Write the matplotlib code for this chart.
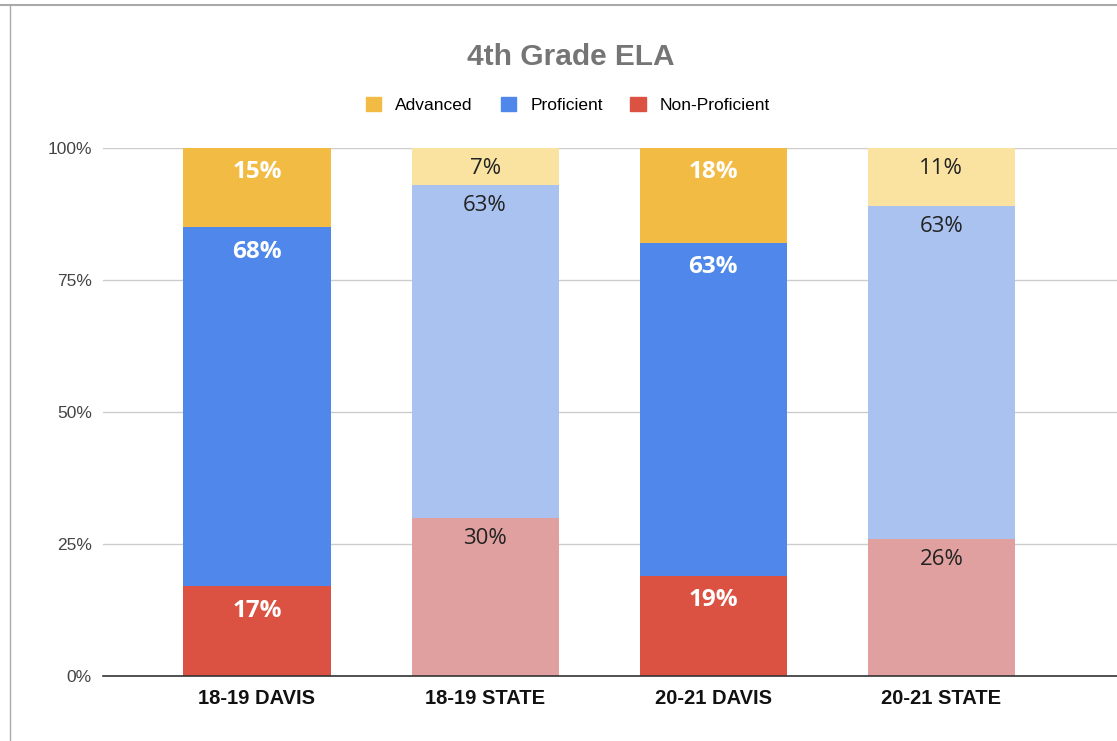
import numpy as np
import matplotlib.pyplot as plt
from matplotlib.lines import Line2D
from matplotlib.patches import Patch

categories = ['18-19 DAVIS', '18-19 STATE', '20-21 DAVIS', '20-21 STATE']
non_proficient = [17, 30, 19, 26]
proficient = [68, 63, 63, 63]
advanced = [15, 7, 18, 11]
is_davis = [True, False, True, False]

dark = {'adv': '#F2BB43', 'prof': '#4F87EA', 'non': '#DB5142'}
light = {'adv': '#FAE3A1', 'prof': '#AAC2F0', 'non': '#E0A09F'}

plt.rcParams['font.family'] = ['Liberation Sans', 'DejaVu Sans']

fig = plt.figure(figsize=(11.17, 7.41), dpi=100)
ax = fig.add_axes([103/1117, 1-676/741, 1-103/1117, (676-148)/741])

x = np.arange(len(categories))
w = 0.645

for i in x:
    pal = dark if is_davis[i] else light
    segs = [(non_proficient[i], pal['non']), (proficient[i], pal['prof']), (advanced[i], pal['adv'])]
    bottom = 0
    for v, c in segs:
        ax.bar(i, v, w, bottom=bottom, color=c, zorder=2)
        top = bottom + v
        if is_davis[i]:
            ax.annotate('%d%%' % v, (i, top), xytext=(0, -17.5), textcoords='offset points',
                        ha='center', va='center', color='white', fontsize=17.5, fontweight='bold',
                        family=['Open Sans', 'DejaVu Sans'])
        else:
            ax.annotate('%d%%' % v, (i, top), xytext=(0, -15), textcoords='offset points',
                        ha='center', va='center', color='#222222', fontsize=16,
                        family=['Open Sans', 'DejaVu Sans'])
        bottom = top

ax.set_xlim(-0.675, 3.77)
ax.set_ylim(0, 100)
ax.set_yticks([0, 25, 50, 75, 100])
ax.set_yticklabels(['0%', '25%', '50%', '75%', '100%'], fontsize=12.5, color='#444444')
ax.set_xticks(x)
ax.set_xticklabels(categories, fontsize=14.5, fontweight='bold', color='#111111')
ax.tick_params(axis='both', length=0)
ax.tick_params(axis='y', pad=8)
ax.tick_params(axis='x', pad=9)
ax.grid(axis='y', color='#cccccc', linewidth=1, zorder=0)
for s in ['top', 'right', 'left']:
    ax.spines[s].set_visible(False)
ax.spines['bottom'].set_color('#333333')
ax.spines['bottom'].set_linewidth(1.2)
ax.spines['bottom'].set_zorder(3)

fig.text(571/1117, 1-57/741, '4th Grade ELA', ha='center', va='center',
         fontsize=21.5, fontweight='bold', color='#757575')

handles = [Patch(color=dark['adv']), Patch(color=dark['prof']), Patch(color=dark['non'])]
fig.legend(handles, ['Advanced', 'Proficient', 'Non-Proficient'], loc='center',
           bbox_to_anchor=(568/1117, 1-105/741), ncol=3, frameon=False, fontsize=12.5,
           handlelength=0.9, handleheight=0.9, handletextpad=0.8, columnspacing=1.6)

# screenshot frame
fig.add_artist(Line2D([0, 1], [1-5/741, 1-5/741], color='#aaaaaa', linewidth=1.5))
fig.add_artist(Line2D([10/1117, 10/1117], [0, 1-5/741], color='#aaaaaa', linewidth=1))

fig.savefig('out.png', dpi=100)
